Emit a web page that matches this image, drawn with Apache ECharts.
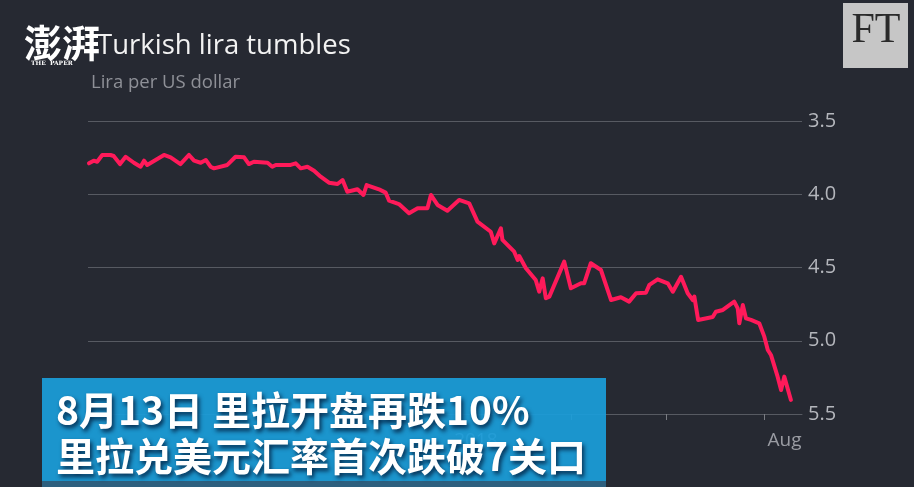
<!DOCTYPE html>
<html><head><meta charset="utf-8">
<script src="https://cdn.jsdelivr.net/npm/echarts@6/dist/echarts.min.js"></script>
<style>html,body{margin:0;padding:0;background:#262932;}#c{width:914px;height:487px;}</style>
</head><body><div id="c"></div>
<script>
// Days since 1 Jan 2018
const days = [-1.2,0.3,1.4,3.0,5.6,6.6,8.6,10.4,13.0,15.1,
16.2,17.2,22.5,24.6,27.7,30.4,32.0,34.1,35.7,37.2,
38.3,42.5,45.1,47.8,49.3,50.9,55.2,56.7,57.8,62.5,
64.1,65.7,67.8,69.9,72.0,74.6,77.3,78.9,80.4,83.6,
85.5,86.5,90.4,92.5,93.6,96.7,99.9,102.6,105.7,106.8,
108.9,112.0,115.7,118.9,121.5,125.7,126.8,128.9,129.4,133.1,
134.2,134.7,136.8,139.9,141.0,142.1,143.1,144.2,148.9,151.0,
154.2,155.2,157.3,160.5,163.7,166.8,169.4,171.6,174.7,175.8,
178.4,181.6,183.2,185.8,187.9,189.5,190.0,191.2,195.8,196.8,
199.0,202.6,203.7,204.2,205.3,206.3,207.9,210.5,212.1,213.2,
214.2,216.3,217.4,218.4,220.5];
// Lira per US dollar
const rates = [3.789,3.771,3.778,3.732,3.732,3.739,3.794,3.744,3.785,3.812,
3.771,3.800,3.732,3.748,3.794,3.732,3.771,3.785,3.766,3.812,
3.823,3.800,3.744,3.748,3.794,3.778,3.785,3.812,3.800,3.800,
3.789,3.823,3.812,3.839,3.880,3.921,3.930,3.903,3.983,3.966,
4.005,3.937,3.966,3.989,4.044,4.067,4.130,4.096,4.096,4.005,
4.073,4.112,4.039,4.062,4.187,4.256,4.335,4.232,4.312,4.392,
4.449,4.422,4.505,4.585,4.665,4.574,4.710,4.699,4.460,4.642,
4.608,4.608,4.471,4.517,4.722,4.703,4.733,4.676,4.672,4.619,
4.581,4.608,4.665,4.563,4.676,4.722,4.699,4.858,4.838,4.802,
4.790,4.733,4.779,4.881,4.756,4.847,4.858,4.881,4.972,5.063,
5.097,5.245,5.336,5.245,5.404];
const monthTickDays = [0,31,59,90,120,151,181,212];
const xLabelDays = [121, 218.5];
const xLabels = ['2018', 'Aug'];
const yTicks = [3.5, 4.0, 4.5, 5.0, 5.5];

const chart = echarts.init(document.getElementById('c'), null, {renderer: 'canvas'});
const gridColor = '#575a62';
chart.setOption({
  backgroundColor: '#262932',
  animation: false,
  grid: {left: 88, right: 112, top: 121, bottom: 73, containLabel: false},
  xAxis: {
    type: 'value', min: -1.5, max: 224,
    axisLine: {show: true, lineStyle: {color: gridColor, width: 1}},
    axisTick: {show: true, length: 6, lineStyle: {color: '#7a7c83'}, customValues: monthTickDays},
    axisLabel: {
      show: true, customValues: xLabelDays, margin: 17,
      color: '#9a9ca3', fontSize: 19, fontFamily: 'Open Sans',
      formatter: v => { let i = xLabelDays.findIndex(d => Math.abs(d - v) < 0.6); return i >= 0 ? xLabels[i] : ''; }
    },
    splitLine: {show: false}
  },
  yAxis: {
    type: 'value', min: yTicks[0], max: yTicks[yTicks.length-1], interval: 0.5, inverse: true,
    position: 'right',
    axisLine: {show: false}, axisTick: {show: false},
    axisLabel: {margin: 6, color: '#b4b6bc', fontSize: 20, fontFamily: 'Open Sans',
      formatter: v => v.toFixed(1)},
    splitLine: {show: true, lineStyle: {color: gridColor, width: 1}}
  },
  series: [{
    type: 'line',
    data: days.map((d, i) => [d, rates[i]]),
    showSymbol: false,
    lineStyle: {color: '#ff1a5a', width: 4, join: 'round', cap: 'round'},
    z: 5
  }],
  graphic: [
    {type: 'text', z: 50, style: {x: 97, y: 46, text: 'Turkish lira tumbles', fill: '#f2f2f2',
      font: '27.5px "Open Sans"', textVerticalAlign: 'middle', verticalAlign: 'middle'}},
    {type: 'text', z: 50, style: {x: 91, y: 83, text: 'Lira per US dollar', fill: '#8e9097',
      font: '18.5px "Open Sans"', textVerticalAlign: 'middle', verticalAlign: 'middle'}},
    {type: 'text', z: 60, style: {x: 24, y: 43, text: '澎湃', fill: '#ffffff',
      font: 'bold 38px "Noto Sans CJK SC"', textVerticalAlign: 'middle', verticalAlign: 'middle'}},
    {type: 'text', z: 60, style: {x: 31, y: 63, text: 'THE  PAPER', fill: '#ffffff',
      font: 'bold 6px "DejaVu Serif"', textVerticalAlign: 'middle', verticalAlign: 'middle'}},
    {type: 'rect', z: 50, shape: {x: 843, y: 3, width: 65, height: 65}, style: {fill: '#c6c6c6'}},
    {type: 'text', z: 51, style: {x: 876, y: 31, text: 'FT', fill: '#2a2a2a',
      font: '42px "Liberation Serif"', textAlign: 'center', align: 'center',
      textVerticalAlign: 'middle', verticalAlign: 'middle'}},
    {type: 'rect', z: 100, shape: {x: 42, y: 378, width: 564, height: 109}, style: {fill: 'rgba(27,157,217,0.93)'}},
    {type: 'rect', z: 100, shape: {x: 42, y: 481, width: 564, height: 6}, style: {fill: '#2d5f7e'}},
    {type: 'text', z: 101, style: {x: 56, y: 410, text: '8月13日 里拉开盘再跌10%', fill: '#ffffff',
      font: 'bold 39px "Noto Sans CJK SC"', textVerticalAlign: 'middle', verticalAlign: 'middle',
      textShadowColor: 'rgba(0,20,50,0.8)', textShadowBlur: 4, textShadowOffsetX: 2, textShadowOffsetY: 3}},
    {type: 'text', z: 101, style: {x: 56, y: 456, text: '里拉兑美元汇率首次跌破7关口', fill: '#ffffff',
      font: 'bold 39px "Noto Sans CJK SC"', textVerticalAlign: 'middle', verticalAlign: 'middle',
      textShadowColor: 'rgba(0,20,50,0.8)', textShadowBlur: 4, textShadowOffsetX: 2, textShadowOffsetY: 3}}
  ]
});
</script></body></html>
